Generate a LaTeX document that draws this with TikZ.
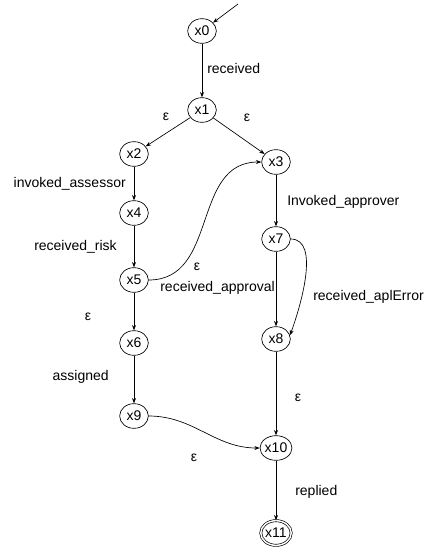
\documentclass[tikz,border=0pt]{standalone}
\usepackage{fontspec}
\setmainfont{Liberation Sans}
\usetikzlibrary{shapes.geometric,arrows.meta}
\begin{document}
\begin{tikzpicture}[x=0.75pt,y=-0.75pt,
  st/.style={ellipse,draw,line width=0.5pt,minimum width=21.5pt,minimum height=18.5pt,inner sep=0pt,font=\fontsize{10.5}{12.5}\selectfont},
  acc/.style={st,double,double distance=1.1pt},
  lbl/.style={font=\fontsize{10.5}{12.5}\selectfont,inner sep=0pt},
  tr/.style={draw,line width=0.5pt,-{Stealth[length=4pt,width=3pt]}},
]
\useasboundingbox (0,0) rectangle (427,549);
\node[st] (x0) at (202,31) {x0};
\node[st] (x1) at (202,110) {x1};
\node[st] (x2) at (134,154) {x2};
\node[st] (x3) at (276,162) {x3};
\node[st] (x4) at (134,213) {x4};
\node[st] (x5) at (134,280) {x5};
\node[st] (x6) at (134,343) {x6};
\node[st] (x7) at (276,239) {x7};
\node[st] (x8) at (276,339) {x8};
\node[st] (x9) at (134,416) {x9};
\node[st] (x10) at (276,448) {x10};
\node[acc] (x11) at (276,533) {x11};
\coordinate (s) at (238,4);

\draw[tr] (s) -- (x0);
\draw[tr] (x0) -- (x1);
\draw[tr] (x1) -- (x2);
\draw[tr] (x1) -- (x3);
\draw[tr] (x2) -- (x4);
\draw[tr] (x4) -- (x5);
\draw[tr] (x5) -- (x6);
\draw[tr] (x6) -- (x9);
\draw[tr] (x5.east) to[out=0,in=180,looseness=1.1] (x3.west);
\draw[tr] (x3) -- (x7);
\draw[tr] (x7) -- (x8);
\draw[tr] (x7.east) to[out=0,in=70,looseness=0.8] (x8.15);
\draw[tr] (x8) -- (x10);
\draw[tr] (x9.east) to[out=0,in=180] (x10.west);
\draw[tr] (x10) -- (x11);

\node[lbl,anchor=west] (l1) at (207,68) {received};
\node[lbl] (l2) at (166,117) {ε};
\node[lbl] (l3) at (247,118) {ε};
\node[lbl,anchor=east] (l4) at (126,184) {invoked\_assessor};
\node[lbl,anchor=east] (l5) at (117,247) {received\_risk};
\node[lbl] (l6) at (88,317) {ε};
\node[lbl,anchor=east] (l7) at (109,377) {assigned};
\node[lbl] (l8) at (197,267) {ε};
\node[lbl,anchor=east] (l9) at (275,288) {received\_approval};
\node[lbl,anchor=west] (l10) at (287,202) {Invoked\_approver};
\node[lbl,anchor=west] (l11) at (313,297) {received\_aplError};
\node[lbl] (l12) at (298,398) {ε};
\node[lbl] (l13) at (194,458) {ε};
\node[lbl,anchor=west] (l14) at (295,492) {replied};
\end{tikzpicture}
\end{document}
